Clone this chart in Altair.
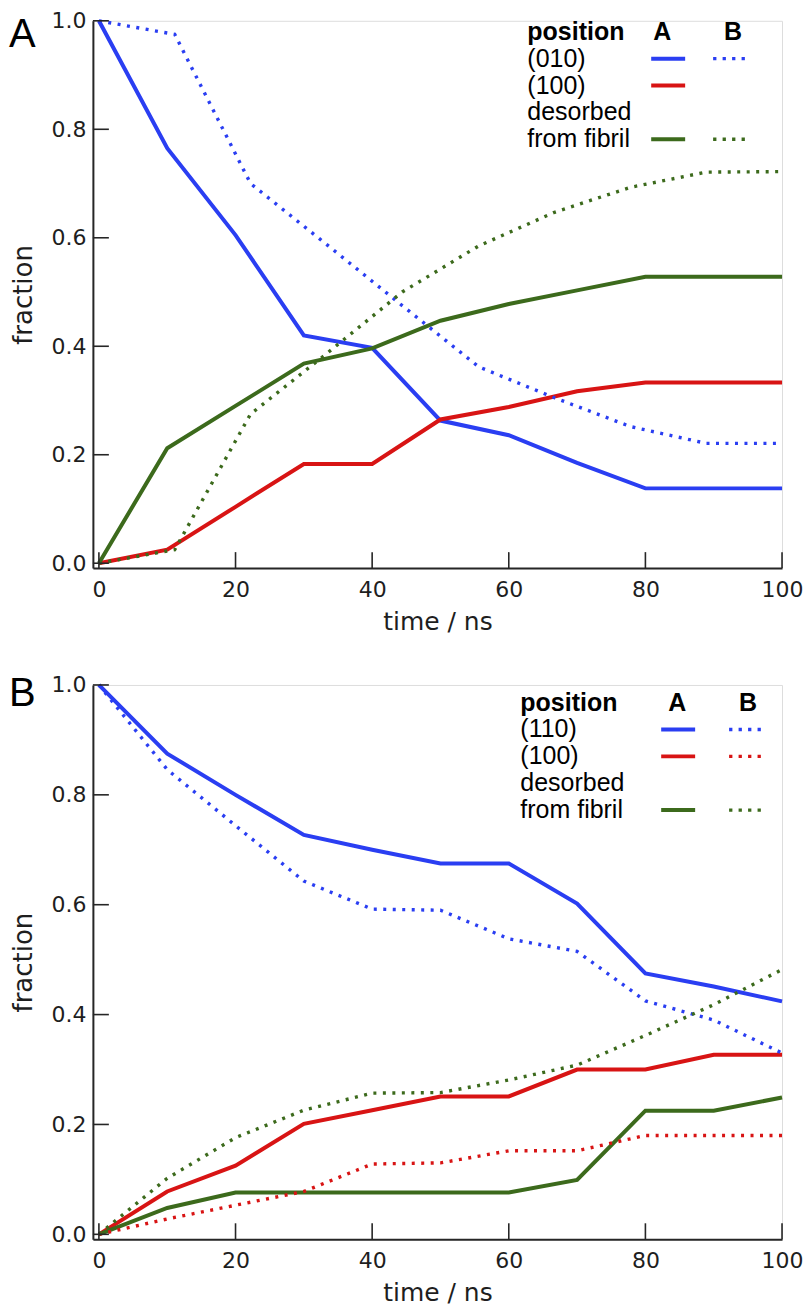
import altair as alt
import pandas as pd

# ---------------- data ----------------
time10 = [0, 10, 20, 30, 40, 50, 60, 70, 80, 90, 100]
time11 = [0, 11.1, 22.2, 33.3, 44.4, 55.6, 66.7, 77.8, 88.9, 100]

# Panel A
a_010_A = [1.0, 0.765, 0.605, 0.42, 0.397, 0.263, 0.236, 0.185, 0.138, 0.138, 0.138]
a_100_A = [0.0, 0.025, 0.104, 0.183, 0.183, 0.265, 0.288, 0.317, 0.333, 0.333, 0.333]
a_des_A = [0.0, 0.212, 0.29, 0.368, 0.396, 0.447, 0.478, 0.503, 0.528, 0.528, 0.528]
a_010_B = [1.0, 0.975, 0.70, 0.588, 0.475, 0.362, 0.305, 0.252, 0.221, 0.221]
a_des_B = [0.0, 0.025, 0.275, 0.386, 0.50, 0.585, 0.647, 0.693, 0.721, 0.722]

# Panel B
b_110_A = [1.0, 0.875, 0.80, 0.727, 0.70, 0.675, 0.675, 0.602, 0.475, 0.451, 0.424]
b_110_B = [1.0, 0.846, 0.744, 0.643, 0.592, 0.59, 0.538, 0.515, 0.425, 0.39, 0.33]
b_100_A = [0.0, 0.078, 0.125, 0.201, 0.226, 0.251, 0.251, 0.30, 0.30, 0.327, 0.327]
b_100_B = [0.0, 0.028, 0.053, 0.078, 0.128, 0.13, 0.152, 0.152, 0.18, 0.18, 0.18]
b_des_A = [0.0, 0.048, 0.076, 0.076, 0.076, 0.076, 0.076, 0.099, 0.225, 0.225, 0.249]
b_des_B = [0.0, 0.102, 0.176, 0.226, 0.257, 0.258, 0.281, 0.308, 0.362, 0.418, 0.482]

x_ticks = [0, 20, 40, 60, 80, 100]
y_ticks = [0.0, 0.2, 0.4, 0.6, 0.8, 1.0]

legend_labels_A = ["(010)", "(100)", "desorbed", "from fibril"]
legend_labels_B = ["(110)", "(100)", "desorbed", "from fibril"]
header = ["position", "A", "B"]

series_keys = ["s1", "s2", "des"]
series_colors = ["#2a3ef2", "#d81414", "#3c6a1c"]

# ---------------- helpers ----------------
W = 690
AX = "#262626"
TXT = "#1e1e1e"
AXFONT = "DejaVu Sans"
LEGFONT = "Liberation Sans"
DOT = [3, 6.5]
LSTEP = 26.9


def long(entries):
    rows = []
    for key, pos, times, vals in entries:
        for t, v in zip(times, vals):
            rows.append({"time": t, "value": v, "series": key, "pos": pos})
    return pd.DataFrame(rows)


df_A = long([
    ("s1", "A", time10, a_010_A),
    ("s2", "A", time10, a_100_A),
    ("des", "A", time10, a_des_A),
    ("s1", "B", time11, a_010_B),
    ("des", "B", time11, a_des_B),
])
df_B = long([
    ("s1", "A", time10, b_110_A),
    ("s2", "A", time10, b_100_A),
    ("des", "A", time10, b_des_A),
    ("s1", "B", time10, b_110_B),
    ("s2", "B", time10, b_100_B),
    ("des", "B", time10, b_des_B),
])

xs = alt.Scale(domain=[-0.88, 100], nice=False, zero=False)
ys = alt.Scale(domain=[-0.009, 1.0], nice=False, zero=False)
cs = alt.Scale(domain=series_keys, range=series_colors)

xaxis = alt.Axis(values=x_ticks, format="d", title="time / ns", grid=False,
                 ticks=False, tickSize=0, domainColor=AX, domainWidth=2,
                 labelFont=AXFONT, labelFontSize=22, labelColor=TXT, labelPadding=11,
                 titleFont=AXFONT, titleFontSize=25, titleFontWeight="normal",
                 titleColor=TXT, titlePadding=9, labelFlush=False)
yaxis = alt.Axis(values=y_ticks, format=".1f", title="fraction", grid=False,
                 ticks=False, tickSize=0, domainColor=AX, domainWidth=2,
                 labelFont=AXFONT, labelFontSize=22, labelColor=TXT, labelPadding=7,
                 titleFont=AXFONT, titleFontSize=26, titleFontWeight="normal",
                 titleColor=TXT, titlePadding=14, labelFlush=False)


def panel(df, H, letter, letter_y, labels, b_rows, lx, ly0, xa, xb, ca, cb):
    solid = alt.Chart(df[df["pos"] == "A"]).mark_line(strokeWidth=4).encode(
        x=alt.X("time:Q", scale=xs, axis=xaxis),
        y=alt.Y("value:Q", scale=ys, axis=yaxis),
        color=alt.Color("series:N", scale=cs, legend=None),
        detail="series:N",
    )
    dotted = alt.Chart(df[df["pos"] == "B"]).mark_line(
        strokeWidth=3.4, strokeDash=DOT, strokeCap="butt").encode(
        x=alt.X("time:Q", scale=xs),
        y=alt.Y("value:Q", scale=ys),
        color=alt.Color("series:N", scale=cs, legend=None),
        detail="series:N",
    )
    xt = alt.Chart(pd.DataFrame({"t": x_ticks})).mark_rule(color=AX, strokeWidth=1.6).encode(
        x=alt.X("t:Q", scale=xs), y=alt.value(H), y2=alt.value(H - 16))
    yt = alt.Chart(pd.DataFrame({"v": y_ticks})).mark_rule(color=AX, strokeWidth=1.6).encode(
        y=alt.Y("v:Q", scale=ys), x=alt.value(0), x2=alt.value(16))

    # legend
    head = pd.DataFrame({
        "label": header,
        "px": [lx, ca, cb],
        "py": [ly0] * 3,
    })
    head_l = alt.Chart(head.iloc[:1]).mark_text(
        font=LEGFONT, fontSize=25, fontWeight="bold", align="left", baseline="middle",
        color="#000").encode(
        x=alt.X("px:Q", scale=None, axis=None), y=alt.Y("py:Q", scale=None, axis=None),
        text="label:N")
    head_c = alt.Chart(head.iloc[1:]).mark_text(
        font=LEGFONT, fontSize=25, fontWeight="bold", align="center", baseline="middle",
        color="#000").encode(
        x=alt.X("px:Q", scale=None, axis=None), y=alt.Y("py:Q", scale=None, axis=None),
        text="label:N")
    items = pd.DataFrame({
        "label": labels,
        "px": [lx] * len(labels),
        "py": [ly0 + LSTEP * (i + 1) for i in range(len(labels))],
    })
    item_t = alt.Chart(items).mark_text(
        font=LEGFONT, fontSize=25, align="left", baseline="middle", color="#000").encode(
        x=alt.X("px:Q", scale=None, axis=None), y=alt.Y("py:Q", scale=None, axis=None),
        text="label:N")
    rows_idx = {"s1": 0, "s2": 1, "des": 3}
    la = pd.DataFrame({
        "series": series_keys,
        "x1": [xa[0]] * 3, "x2": [xa[1]] * 3,
        "py": [ly0 + LSTEP * (rows_idx[k] + 1) for k in series_keys],
    })
    lb = pd.DataFrame({
        "series": b_rows,
        "x1": [xb[0]] * len(b_rows), "x2": [xb[1]] * len(b_rows),
        "py": [ly0 + LSTEP * (rows_idx[k] + 1) for k in b_rows],
    })
    leg_a = alt.Chart(la).mark_rule(strokeWidth=4).encode(
        x=alt.X("x1:Q", scale=None, axis=None), x2="x2:Q",
        y=alt.Y("py:Q", scale=None, axis=None),
        color=alt.Color("series:N", scale=cs, legend=None))
    leg_b = alt.Chart(lb).mark_rule(strokeWidth=3.4, strokeDash=[3.3, 6.2], strokeCap="butt").encode(
        x=alt.X("x1:Q", scale=None, axis=None), x2="x2:Q",
        y=alt.Y("py:Q", scale=None, axis=None),
        color=alt.Color("series:N", scale=cs, legend=None))

    let = alt.Chart(pd.DataFrame({"t": [letter]})).mark_text(
        font=LEGFONT, fontSize=40, align="left", baseline="top", color="#000").encode(
        text="t:N", x=alt.value(-84), y=alt.value(letter_y))

    return alt.layer(solid, dotted, xt, yt, head_l, head_c, item_t, leg_a, leg_b, let).properties(
        width=W, height=H)


pA = panel(df_A, 548, "A", -6, legend_labels_A, ["s1", "des"],
           435, 11, (559, 593), (621, 655), 570, 641)
pB = panel(df_B, 555, "B", -11, legend_labels_B, ["s1", "s2", "des"],
           428, 17.7, (569, 603), (637, 670), 585, 656)

chart = alt.vconcat(pA, pB, spacing=38).properties(
    padding={"left": 0, "top": 0, "right": 0, "bottom": 0}
).configure_view(strokeWidth=0).configure(background="white")

chart.save("out.html", embed_options={"renderer": "svg", "actions": False})
